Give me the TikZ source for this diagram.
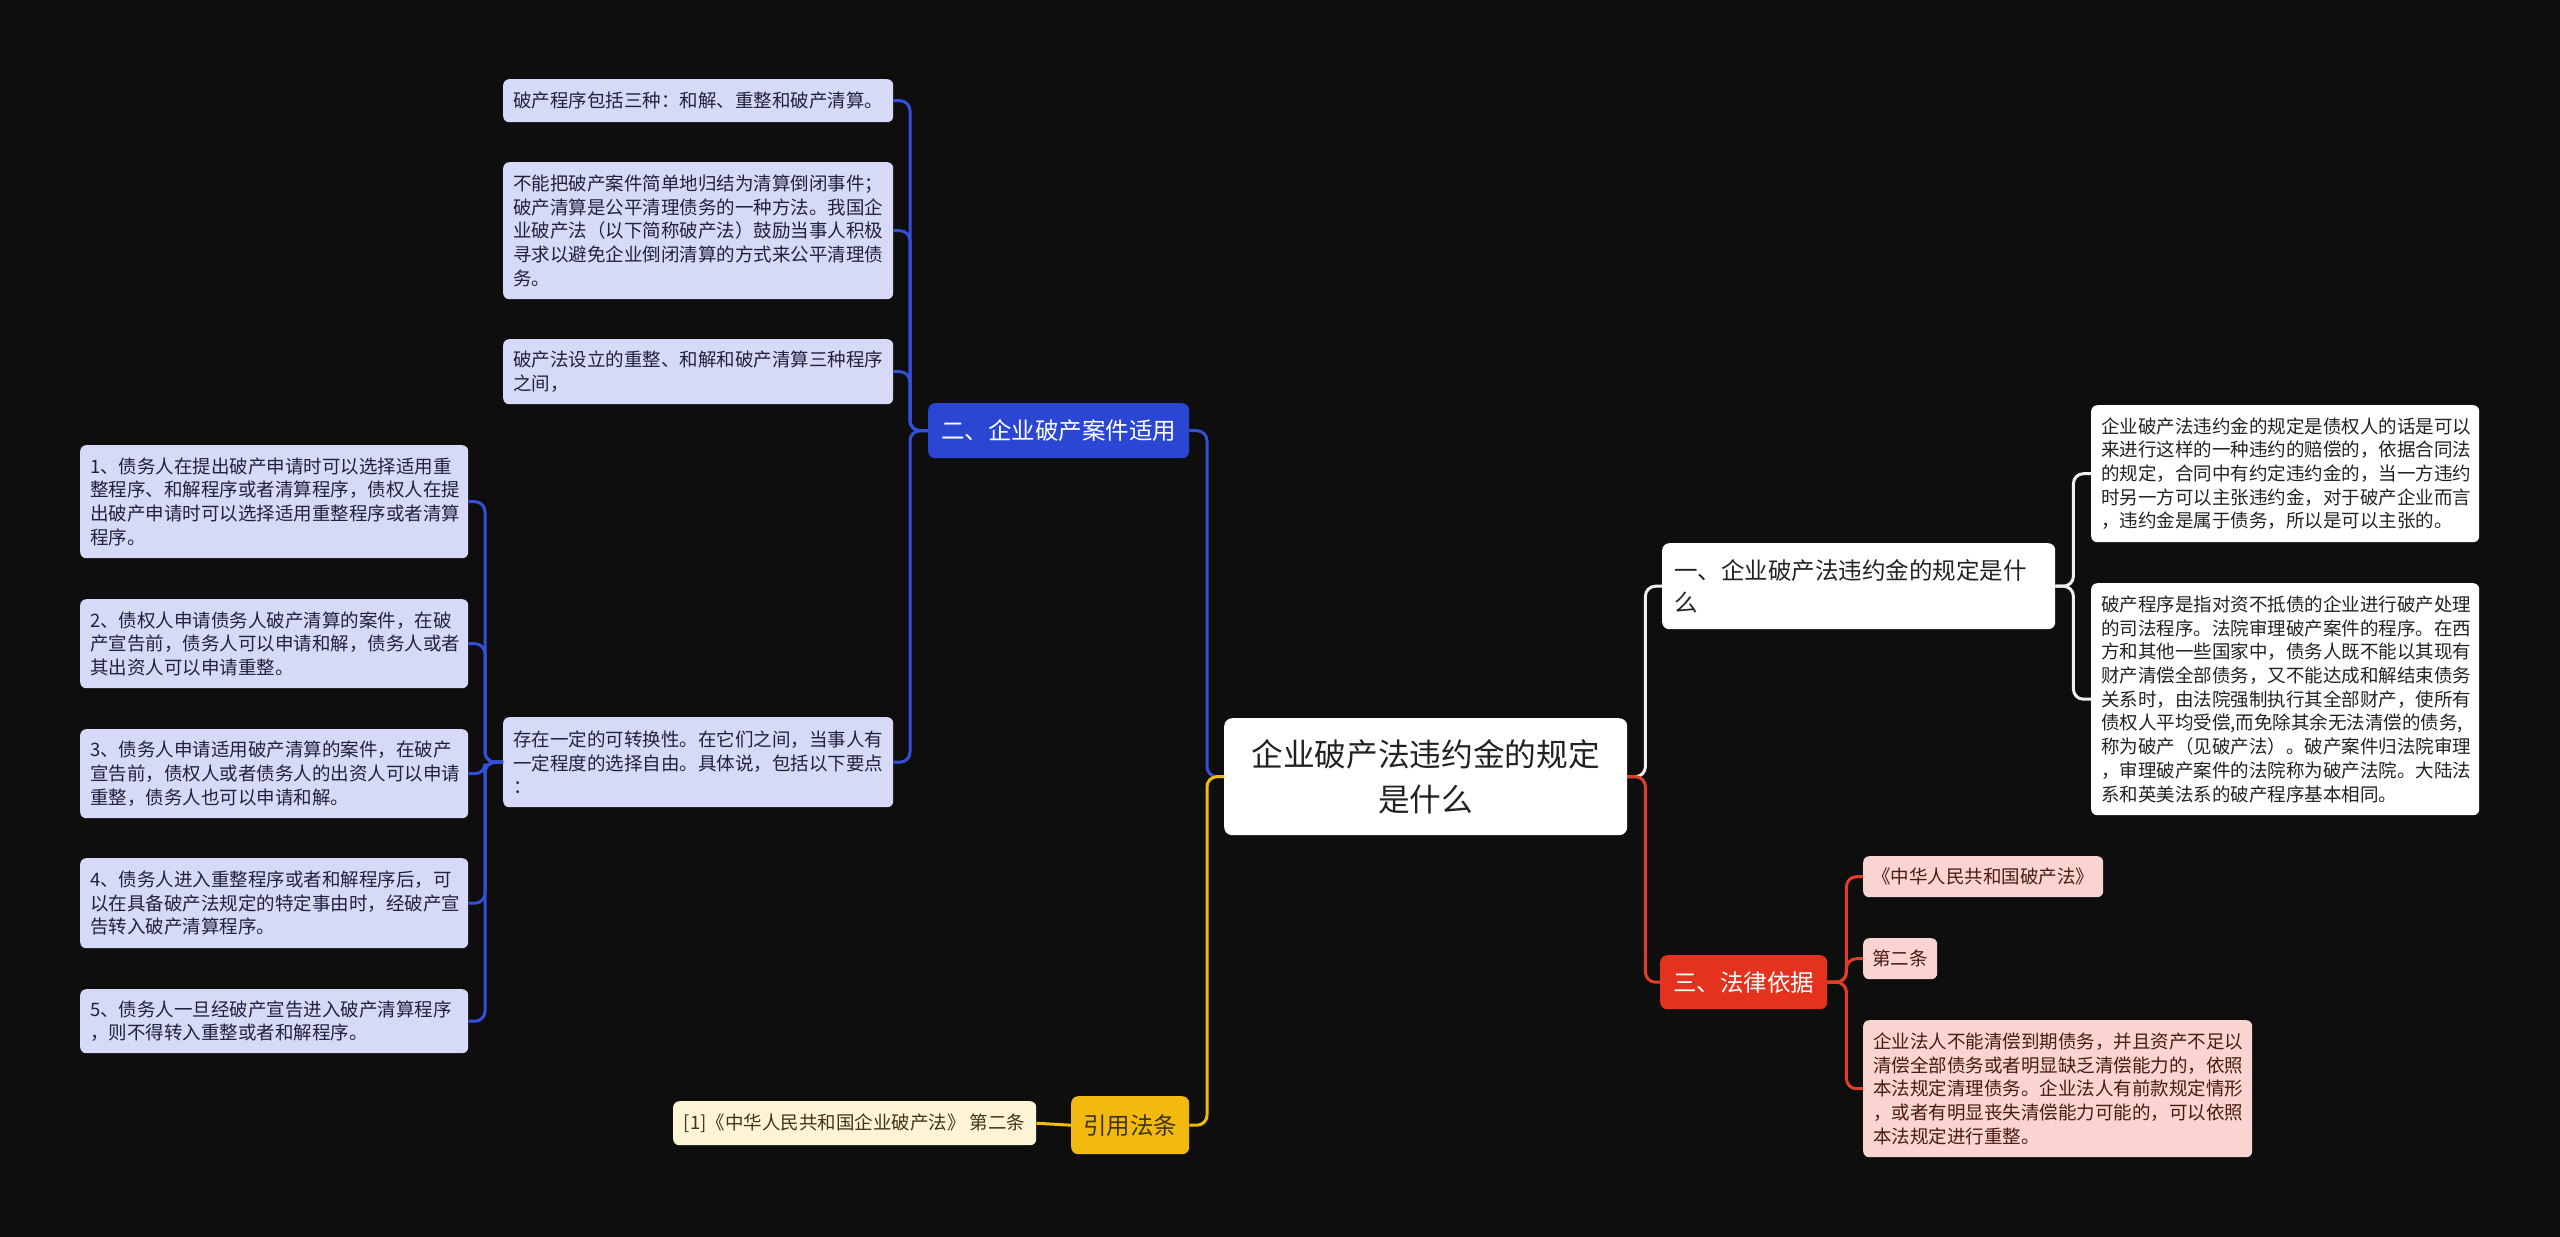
\documentclass[tikz,border=0pt]{standalone}
\usepackage{fontspec}
\setmainfont{Noto Sans CJK SC}
\definecolor{bgc}{HTML}{0E0E0E}
\definecolor{bmain}{HTML}{2C46D4}
\definecolor{bline}{HTML}{3550D8}
\definecolor{bleaf}{HTML}{D6D9F7}
\definecolor{btext}{HTML}{20223C}
\definecolor{rmain}{HTML}{E5321F}
\definecolor{rline}{HTML}{E23D2B}
\definecolor{rleaf}{HTML}{FAD4D0}
\definecolor{rtext}{HTML}{4A1A14}
\definecolor{ymain}{HTML}{F2B90F}
\definecolor{yleaf}{HTML}{FDF4D6}
\definecolor{ytext}{HTML}{3F3414}
\definecolor{wline}{HTML}{F0F0F0}
\definecolor{wtext}{HTML}{222222}
\begin{document}
\begin{tikzpicture}[x=1pt,y=-1pt,
  base/.style={anchor=north west, rounded corners=6pt, inner ysep=0pt},
  leaffont/.style={font=\fontsize{18.5}{23.7}\selectfont},
  multi/.style={base, leaffont, align=left, text width=#1, inner xsep=10pt},
  single/.style={base, leaffont, align=center, inner sep=0pt},
  leafB/.style={fill=bleaf, text=btext},
  leafR/.style={fill=rleaf, text=rtext},
  leafY/.style={fill=yleaf, text=ytext},
  leafW/.style={fill=white, text=wtext},
  mainnode/.style={base, rounded corners=7pt, align=center, inner sep=0pt, font=\fontsize{23.5}{32}\selectfont},
  conn/.style={line width=3pt, rounded corners=10pt}
]
\useasboundingbox (0,0) rectangle (2560,1237);
\fill[bgc] (0,0) rectangle (2560,1237);

% central
\node[base, rounded corners=8pt, fill=white, text=wtext, align=center, text width=383pt, inner xsep=10pt,
  minimum height=117pt, font=\fontsize{31.7}{45}\selectfont] (c) at (1224,718) {企业破产法违约金的规定\\是什么};

% main branches
\node[mainnode, fill=bmain, text=white, minimum width=261pt, minimum height=55pt] (n2) at (928,403) {二、企业破产案件适用};
\node[mainnode, fill=ymain, text=ytext, minimum width=118pt, minimum height=58pt] (n4) at (1071,1096) {引用法条};
\node[base, rounded corners=7pt, fill=white, text=wtext, align=left, text width=369pt, inner xsep=12pt,
  minimum height=86pt, font=\fontsize{23.5}{32}\selectfont] (n1) at (1662,543) {一、企业破产法违约金的规定是什\\么};
\node[mainnode, fill=rmain, text=white, minimum width=167pt, minimum height=54pt] (n3) at (1660,955) {三、法律依据};

% blue top leaves
\node[multi=370pt, leafB, minimum height=43pt] (t1) at (503,79) {破产程序包括三种：和解、重整和破产清算。};
\node[multi=370pt, leafB, minimum height=137pt] (t2) at (503,162) {不能把破产案件简单地归结为清算倒闭事件；\\破产清算是公平清理债务的一种方法。我国企\\业破产法（以下简称破产法）鼓励当事人积极\\寻求以避免企业倒闭清算的方式来公平清理债\\务。};
\node[multi=370pt, leafB, minimum height=65pt] (t3) at (503,339) {破产法设立的重整、和解和破产清算三种程序\\之间，};
\node[multi=370pt, leafB, minimum height=90pt] (t4) at (503,717) {存在一定的可转换性。在它们之间，当事人有\\一定程度的选择自由。具体说，包括以下要点\\：};

% blue left leaves
\node[multi=368pt, leafB, minimum height=113pt] (l1) at (80,445) {1、债务人在提出破产申请时可以选择适用重\\整程序、和解程序或者清算程序，债权人在提\\出破产申请时可以选择适用重整程序或者清算\\程序。};
\node[multi=368pt, leafB, minimum height=89pt] (l2) at (80,599) {2、债权人申请债务人破产清算的案件，在破\\产宣告前，债务人可以申请和解，债务人或者\\其出资人可以申请重整。};
\node[multi=368pt, leafB, minimum height=89pt] (l3) at (80,729) {3、债务人申请适用破产清算的案件，在破产\\宣告前，债权人或者债务人的出资人可以申请\\重整，债务人也可以申请和解。};
\node[multi=368pt, leafB, minimum height=90pt] (l4) at (80,858) {4、债务人进入重整程序或者和解程序后，可\\以在具备破产法规定的特定事由时，经破产宣\\告转入破产清算程序。};
\node[multi=368pt, leafB, minimum height=64pt] (l5) at (80,989) {5、债务人一旦经破产宣告进入破产清算程序\\，则不得转入重整或者和解程序。};

% yellow leaf
\node[single, leafY, minimum width=363pt, minimum height=44pt] (y1) at (673,1101) {[1]《中华人民共和国企业破产法》 第二条};

% white leaves
\node[multi=368pt, leafW, minimum height=137pt] (wa) at (2091,405) {企业破产法违约金的规定是债权人的话是可以\\来进行这样的一种违约的赔偿的，依据合同法\\的规定，合同中有约定违约金的，当一方违约\\时另一方可以主张违约金，对于破产企业而言\\，违约金是属于债务，所以是可以主张的。};
\node[multi=368pt, leafW, minimum height=232pt] (wb) at (2091,583) {破产程序是指对资不抵债的企业进行破产处理\\的司法程序。法院审理破产案件的程序。在西\\方和其他一些国家中，债务人既不能以其现有\\财产清偿全部债务，又不能达成和解结束债务\\关系时，由法院强制执行其全部财产，使所有\\债权人平均受偿,而免除其余无法清偿的债务,\\称为破产（见破产法）。破产案件归法院审理\\，审理破产案件的法院称为破产法院。大陆法\\系和英美法系的破产程序基本相同。};

% red leaves
\node[single, leafR, minimum width=240pt, minimum height=41pt] (r1) at (1863,856) {《中华人民共和国破产法》};
\node[single, leafR, minimum width=74pt, minimum height=41pt] (r2) at (1863,938) {第二条};
\node[multi=369pt, leafR, minimum height=137pt] (r3) at (1863,1020) {企业法人不能清偿到期债务，并且资产不足以\\清偿全部债务或者明显缺乏清偿能力的，依照\\本法规定清理债务。企业法人有前款规定情形\\，或者有明显丧失清偿能力可能的，可以依照\\本法规定进行重整。};

% connectors
\draw[conn, bline] (c.west) -- ++(-17,0) |- (n2.east);
\draw[conn, ymain] (c.west) -- ++(-17,0) |- (n4.east);
\draw[conn, wline] (c.east) -- ++(18,0) |- (n1.west);
\draw[conn, rline] (c.east) -- ++(18,0) |- (n3.west);

\foreach \t in {t1,t2,t3,t4} \draw[conn, bline] (n2.west) -- ++(-18,0) |- (\t.east);
\foreach \l in {l1,l2,l3,l4,l5} \draw[conn, bline] (t4.west) -- ++(-18,0) |- (\l.east);
\draw[conn, ymain] (n4.west) -- (y1.east);
\foreach \w in {wa,wb} \draw[conn, wline] (n1.east) -- ++(18,0) |- (\w.west);
\foreach \r in {r1,r2,r3} \draw[conn, rline] (n3.east) -- ++(19,0) |- (\r.west);
\end{tikzpicture}
\end{document}
